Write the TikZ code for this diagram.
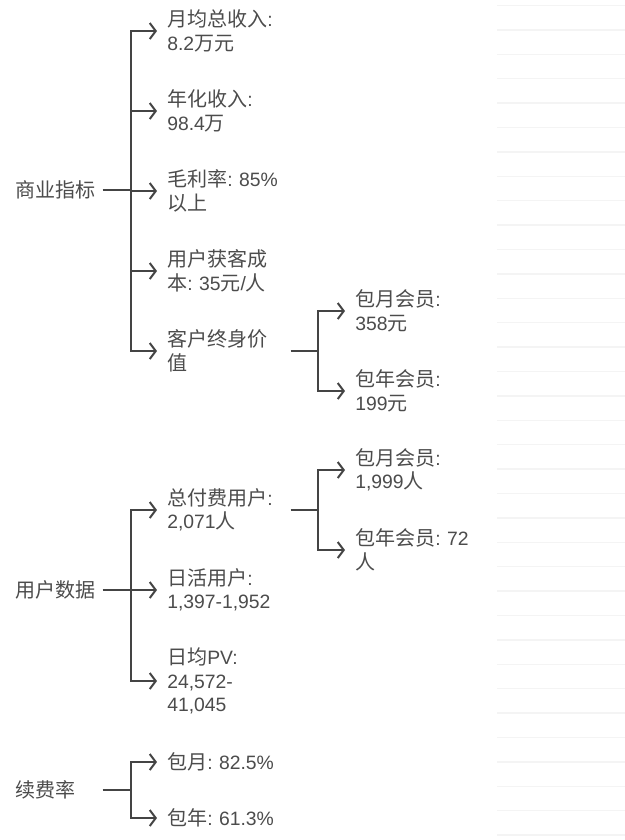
\documentclass[tikz,border=0pt]{standalone}
\usepackage{fontspec}
\setmainfont{Liberation Sans}
\newfontfamily\zhfont[Scale=1.035]{Noto Sans CJK SC}
\newcommand\zh[1]{{\zhfont #1}}
\frenchspacing
\usetikzlibrary{arrows.meta}
\definecolor{ink}{HTML}{4C4C4C}
\definecolor{wirec}{HTML}{444444}
\definecolor{rulec}{HTML}{F4F4F4}

\begin{document}
\begin{tikzpicture}[x=0.75pt,y=-0.75pt,
  lbl/.style={anchor=west,inner sep=0pt,align=left,text=ink,
    font=\fontsize{14.5pt}{17.6pt}\selectfont},
  rootlbl/.style={lbl,text width=63.75pt},
  leaf/.style={lbl,text width=90pt},
  wire/.style={draw=wirec,line width=1.5pt},
  tip/.style={wire,-{Straight Barb[length=4.5pt,width=12pt]},shorten >=7.5pt},
]
% canvas
\fill[white] (0,0) rectangle (625,840);
\useasboundingbox (0,0) rectangle (625,840);

% faint ruling on the right
\foreach \k in {0,...,34}
  \draw[rulec,line width=1pt] (497,{5.5+24.4*\k}) -- (625,{5.5+24.4*\k});

% ---------- 商业指标 ----------
\node[rootlbl] (r1) at (15,190) {\zh{商业指标}};
\coordinate (j1) at (131,190);
\node[leaf] (c11) at (167,31) {\zh{月均总收入}:\\8.2\zh{万元}};
\node[leaf] (c12) at (167,111) {\zh{年化收入}:\\98.4\zh{万}};
\node[leaf] (c13) at (167,191) {\zh{毛利率}: 85\%\\\zh{以上}};
\node[leaf] (c14) at (167,271) {\zh{用户获客成}\\\zh{本}: 35\zh{元}/\zh{人}};
\node[leaf] (c15) at (167,351) {\zh{客户终身价}\\\zh{值}};
\coordinate (j15) at (318,351);
\node[leaf] (g151) at (355,311) {\zh{包月会员}:\\358\zh{元}};
\node[leaf] (g152) at (355,391) {\zh{包年会员}:\\199\zh{元}};

\draw[wire] ([xshift=1.5pt]r1.east) -- (j1);
\foreach \c in {c11,c12,c13,c14,c15}
  \draw[tip] (j1) |- (\c.west);
\draw[wire] ([xshift=2.25pt]c15.east) -- (j15);
\foreach \c in {g151,g152}
  \draw[tip] (j15) |- (\c.west);

% ---------- 用户数据 ----------
\node[rootlbl] (r2) at (15,590) {\zh{用户数据}};
\coordinate (j2) at (131,590);
\node[leaf] (c21) at (167,510) {\zh{总付费用户}:\\2,071\zh{人}};
\node[leaf] (c22) at (167,590) {\zh{日活用户}:\\1,397-1,952};
\node[leaf] (c23) at (167,681) {\zh{日均}PV:\\24,572-\\41,045};
\coordinate (j21) at (318,510);
\node[leaf] (g211) at (355,470) {\zh{包月会员}:\\1,999\zh{人}};
\node[leaf] (g212) at (355,550) {\zh{包年会员}: 72\\\zh{人}};

\draw[wire] ([xshift=1.5pt]r2.east) -- (j2);
\foreach \c in {c21,c22,c23}
  \draw[tip] (j2) |- (\c.west);
\draw[wire] ([xshift=2.25pt]c21.east) -- (j21);
\foreach \c in {g211,g212}
  \draw[tip] (j21) |- (\c.west);

% ---------- 续费率 ----------
\node[rootlbl] (r3) at (15,790) {\zh{续费率}};
\coordinate (j3) at (131,790);
\node[leaf] (c31) at (167,762) {\zh{包月}: 82.5\%};
\node[leaf] (c32) at (167,818) {\zh{包年}: 61.3\%};

\draw[wire] ([xshift=1.5pt]r3.east) -- (j3);
\foreach \c in {c31,c32}
  \draw[tip] (j3) |- (\c.west);
\end{tikzpicture}
\end{document}
